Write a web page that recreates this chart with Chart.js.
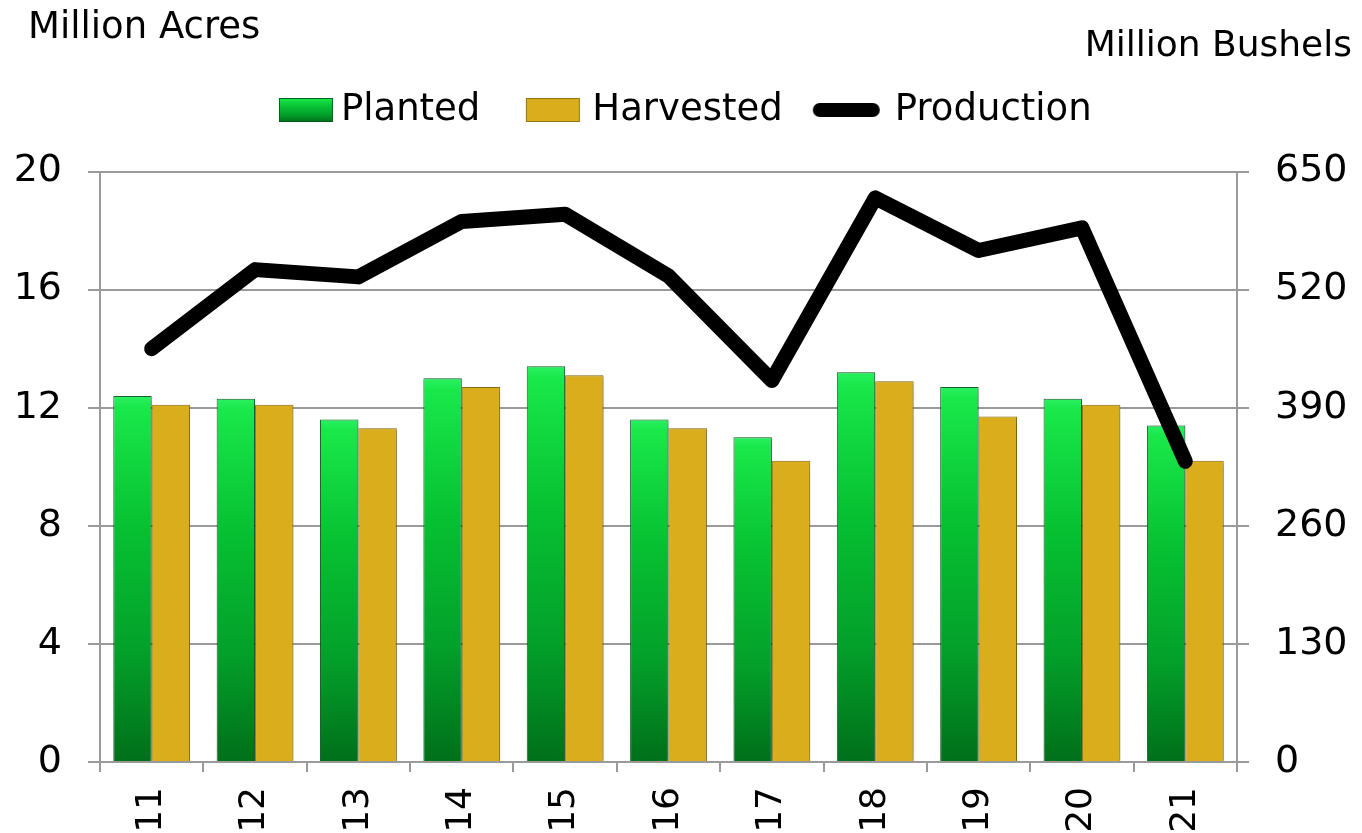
<!DOCTYPE html>
<html>
<head>
<meta charset="utf-8">
<script src="https://cdn.jsdelivr.net/npm/chart.js@4/dist/chart.umd.min.js"></script>
<style>
  html, body { margin: 0; padding: 0; background: #fff; }
  #c { display: block; }
</style>
</head>
<body>
<canvas id="c" width="1362" height="833"></canvas>
<script>
// ---- data ----
const categories = ["11", "12", "13", "14", "15", "16", "17", "18", "19", "20", "21"];
const planted    = [12.4, 12.3, 11.6, 13.0, 13.4, 11.6, 11.0, 13.2, 12.7, 12.3, 11.4];
const harvested  = [12.1, 12.1, 11.3, 12.7, 13.1, 11.3, 10.2, 12.9, 11.7, 12.1, 10.2];
const production = [455, 542, 534, 595, 603, 535, 420, 621, 563, 588, 331];
const leftTicks  = [0, 4, 8, 12, 16, 20];
const rightTicks = [0, 130, 260, 390, 520, 650];
const seriesNames = ["Planted", "Harvested", "Production"];
const leftTitle  = "Million Acres";
const rightTitle = "Million Bushels";

const FONT = '"DejaVu Sans", sans-serif';
const GREEN_BORDER = 'rgba(0,85,25,0.9)';
const GOLD = '#D9AD1B';
const GOLD_BORDER = '#957512';
const LEG_W = 50;       // pointStyleWidth
const LEG_FONT = 37;

function greenGradient(ctx2d, top, bottom) {
  const g = ctx2d.createLinearGradient(0, top, 0, bottom);
  g.addColorStop(0, '#2af062');
  g.addColorStop(0.03, '#19e84a');
  g.addColorStop(0.35, '#07c232');
  g.addColorStop(0.7, '#03a02a');
  g.addColorStop(1, '#006f1a');
  return g;
}

// legend symbol canvases (visible part positioned relative to item start x)
function makeSymbol(relStart, relEnd, h, draw) {
  const c = LEG_W / 2;
  const half = Math.max(Math.abs(relStart - c), Math.abs(relEnd - c)) + 2;
  const cv = document.createElement('canvas');
  cv.width = Math.ceil(half * 2);
  cv.height = h + 4;
  const off = relStart - (c - cv.width / 2);
  const g = cv.getContext('2d');
  draw(g, off, 2, relEnd - relStart, h);
  return cv;
}
const symPlanted = makeSymbol(LEG_W - 43.5, LEG_W + 10.5, 24, (g, x, y, w, h) => {
  g.fillStyle = greenGradient(g, y, y + h);
  g.fillRect(x, y, w, h);
  g.strokeStyle = GREEN_BORDER; g.lineWidth = 1;
  g.strokeRect(x + 0.5, y + 0.5, w - 1, h - 1);
});
const symHarvested = makeSymbol(LEG_W - 48, LEG_W + 6, 24, (g, x, y, w, h) => {
  g.fillStyle = GOLD;
  g.fillRect(x, y, w, h);
  g.strokeStyle = GOLD_BORDER; g.lineWidth = 1;
  g.strokeRect(x + 0.5, y + 0.5, w - 1, h - 1);
});
const symProduction = makeSymbol(LEG_W + 3.5 - 67, LEG_W + 3.5, 14, (g, x, y, w, h) => {
  g.fillStyle = '#000';
  g.beginPath();
  const r = h / 2;
  g.moveTo(x + r, y);
  g.lineTo(x + w - r, y);
  g.arc(x + w - r, y + r, r, -Math.PI / 2, Math.PI / 2);
  g.lineTo(x + r, y + h);
  g.arc(x + r, y + r, r, Math.PI / 2, Math.PI * 1.5);
  g.closePath();
  g.fill();
});
const symbols = [symPlanted, symHarvested, symProduction];

const cornerTitles = {
  id: 'cornerTitles',
  afterDraw(chart) {
    const c = chart.ctx;
    c.save();
    c.fillStyle = '#000';
    c.textBaseline = 'alphabetic';
    c.font = '37px ' + FONT;
    c.textAlign = 'left';
    c.fillText(leftTitle, 28, 38);
    c.font = '36px ' + FONT;
    c.textAlign = 'right';
    c.fillText(rightTitle, 1352, 56);
    c.restore();
  }
};

// soft drop shadow under the bars
const barShadow = {
  id: 'barShadow',
  beforeDatasetDraw(chart, args) {
    if (args.meta.type !== 'bar') return;
    const c = chart.ctx;
    c.save();
    c.shadowColor = 'rgba(0,0,0,0.28)';
    c.shadowBlur = 5;
    c.shadowOffsetX = 2;
    c.shadowOffsetY = 1;
  },
  afterDatasetDraw(chart, args) {
    if (args.meta.type !== 'bar') return;
    chart.ctx.restore();
  }
};

const ctx = document.getElementById('c').getContext('2d');
new Chart(ctx, {
  type: 'bar',
  data: {
    labels: categories,
    datasets: [
      {
        label: seriesNames[0],
        data: planted,
        yAxisID: 'y',
        order: 1,
        backgroundColor: (c) => {
          const chart = c.chart;
          const ys = chart.scales && chart.scales.y;
          if (c.type !== 'data' || !ys) return '#10d040';
          const top = ys.getPixelForValue(c.raw);
          const base = ys.getPixelForValue(0);
          return greenGradient(chart.ctx, top, base);
        },
        borderColor: GREEN_BORDER,
        borderWidth: 1,
        categoryPercentage: 0.743,
        barPercentage: 1.0
      },
      {
        label: seriesNames[1],
        data: harvested,
        yAxisID: 'y',
        order: 1,
        backgroundColor: GOLD,
        borderColor: GOLD_BORDER,
        borderWidth: 1,
        categoryPercentage: 0.743,
        barPercentage: 1.0
      },
      {
        type: 'line',
        label: seriesNames[2],
        data: production,
        yAxisID: 'y1',
        order: 0,
        borderColor: '#000',
        backgroundColor: '#000',
        borderWidth: 15,
        borderCapStyle: 'round',
        borderJoinStyle: 'round',
        pointRadius: 0,
        pointHoverRadius: 0,
        tension: 0,
        fill: false
      }
    ]
  },
  options: {
    responsive: false,
    animation: false,
    events: [],
    layout: { padding: { top: 48, left: 14, right: 12, bottom: 0 } },
    plugins: {
      tooltip: { enabled: false },
      // empty title used only as a spacer between legend and plot area
      title: {
        display: true,
        text: '',
        weight: 500,
        font: { size: 1, lineHeight: 1 },
        padding: { top: 0, bottom: 32 }
      },
      legend: {
        display: true,
        position: 'top',
        align: 'center',
        labels: {
          usePointStyle: true,
          pointStyleWidth: LEG_W,
          padding: 43.5,
          color: '#000',
          font: { size: LEG_FONT, family: FONT },
          generateLabels: (chart) => chart.data.datasets.map((ds, i) => ({
            text: ds.label,
            pointStyle: symbols[i],
            fillStyle: '#000',
            strokeStyle: 'rgba(0,0,0,0)',
            lineWidth: 0,
            hidden: false,
            datasetIndex: i
          }))
        }
      }
    },
    scales: {
      x: {
        position: 'bottom',
        afterFit: (s) => { s.height = 71; },
        grid: {
          offset: true,
          drawOnChartArea: false,
          drawTicks: true,
          tickLength: 10,
          color: '#9a9a9a',
          lineWidth: 2
        },
        border: { display: true, color: '#9a9a9a', width: 2 },
        ticks: {
          autoSkip: false,
          minRotation: 90,
          maxRotation: 90,
          padding: 15,
          color: '#000',
          font: { size: 36, family: FONT }
        }
      },
      y: {
        position: 'left',
        min: 0,
        max: 20,
        afterFit: (s) => { s.width = 86; },
        afterBuildTicks: (s) => { s.ticks = leftTicks.map(v => ({ value: v })); },
        grid: {
          drawOnChartArea: true,
          drawTicks: true,
          tickLength: 12,
          color: '#9a9a9a',
          lineWidth: 2
        },
        border: { display: true, color: '#9a9a9a', width: 2 },
        ticks: {
          padding: 26,
          color: '#000',
          font: { size: 38, family: FONT }
        }
      },
      y1: {
        position: 'right',
        min: 0,
        max: 650,
        afterFit: (s) => { s.width = 113; },
        afterBuildTicks: (s) => { s.ticks = rightTicks.map(v => ({ value: v })); },
        grid: {
          drawOnChartArea: false,
          drawTicks: true,
          tickLength: 12,
          color: '#9a9a9a',
          lineWidth: 2
        },
        border: { display: true, color: '#9a9a9a', width: 2 },
        ticks: {
          padding: 26,
          color: '#000',
          font: { size: 38, family: FONT }
        }
      }
    }
  },
  plugins: [cornerTitles, barShadow]
});
</script>
</body>
</html>
